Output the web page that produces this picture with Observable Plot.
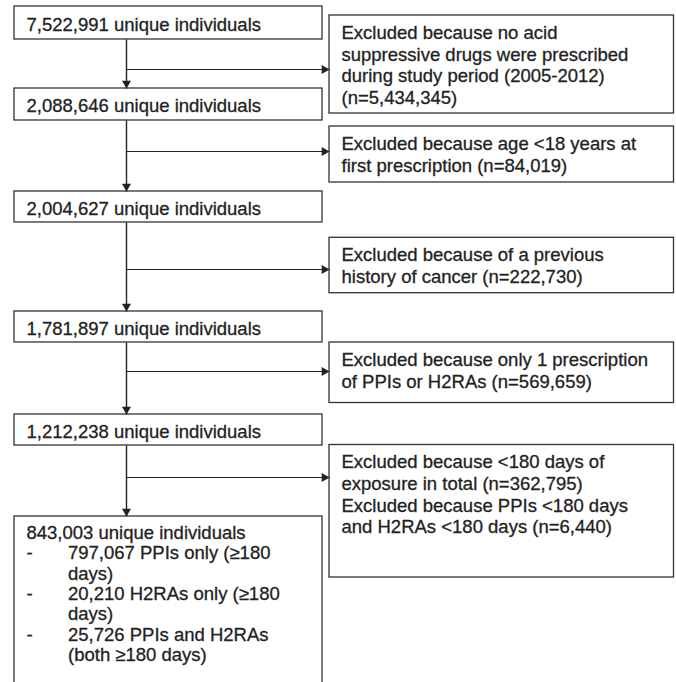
<!DOCTYPE html>
<html>
<head>
<meta charset="utf-8">
<script src="https://cdn.jsdelivr.net/npm/d3@7"></script>
<script src="https://cdn.jsdelivr.net/npm/@observablehq/plot@0.6"></script>
<style>
  html, body { margin: 0; padding: 0; background: #ffffff; }
  #chart svg { display: block; }
</style>
</head>
<body>
<div id="chart"></div>
<script>
// ---- Data (text content of the flowchart) ----
const mainCounts = ["7,522,991", "2,088,646", "2,004,627", "1,781,897", "1,212,238", "843,003"];
const mainSuffix = "unique individuals";
const exclusionText = [
  ["Excluded because no acid", "suppressive drugs were prescribed", "during study period (2005-2012)", "(n=5,434,345)"],
  ["Excluded because age <18 years at", "first prescription (n=84,019)"],
  ["Excluded because of a previous", "history of cancer (n=222,730)"],
  ["Excluded because only 1 prescription", "of PPIs or H2RAs (n=569,659)"],
  ["Excluded because <180 days of", "exposure in total (n=362,795)", "Excluded because PPIs <180 days", "and H2RAs <180 days (n=6,440)"]
];
const finalGroups = [
  ["797,067 PPIs only (≥180", "days)"],
  ["20,210 H2RAs only (≥180", "days)"],
  ["25,726 PPIs and H2RAs", "(both ≥180 days)"]
];
const bullet = "-";

// ---- Layout (pixel frame of the diagram) ----
const W = 676, H = 682;
const mainX1 = 14, mainX2 = 322, spineX = 126, textX = 26, itemX = 67.5;
const mainTop = [6, 88, 191, 311, 414, 516];
const mainBottom = [39, 120, 222, 342, 445, 700];
const exclX1 = 329, exclX2 = 673.5, exclTextX = 341;
const exclTop = [15, 126, 237.3, 342, 444.5];
const exclBottom = [113, 182, 292.7, 402.5, 577];
const arrowY = [69, 151, 269, 371, 477];
const exclLine = 21.7, exclFirst = 23.3;
const finalLine = 20.3, finalFirst = 22.5;
const font = 18.5;
const ink = "#222222", boxStroke = "#333333";

// ---- Build tables ----
const mainBoxes = mainCounts.map((c, i) => ({x1: mainX1, x2: mainX2, y1: mainTop[i], y2: mainBottom[i]}));
const exclBoxes = exclusionText.map((t, i) => ({x1: exclX1, x2: exclX2, y1: exclTop[i], y2: exclBottom[i]}));

const texts = [];
mainCounts.slice(0, -1).forEach((c, i) => {
  texts.push({x: textX, y: (mainTop[i] + mainBottom[i]) / 2 + 7.8, t: `${c} ${mainSuffix}`});
});
// final box
const last = mainCounts.length - 1;
let fy = mainTop[last] + finalFirst;
texts.push({x: textX, y: fy, t: `${mainCounts[last]} ${mainSuffix}`});
finalGroups.forEach(g => {
  g.forEach((line, j) => {
    fy += finalLine;
    if (j === 0) texts.push({x: textX, y: fy, t: bullet});
    texts.push({x: itemX, y: fy, t: line});
  });
});
exclusionText.forEach((lines, i) => {
  lines.forEach((line, j) => {
    texts.push({x: exclTextX, y: exclTop[i] + exclFirst + j * exclLine, t: line});
  });
});

// connectors
const vLinks = mainTop.slice(1).map((t, i) => ({x1: spineX, x2: spineX, y1: mainBottom[i], y2: t}));
const hLinks = arrowY.map(y => ({x1: spineX, x2: exclX1, y1: y, y2: y}));
const tipOffset = 5.2;
const downHeads = mainTop.slice(1).map(t => ({x: spineX, y: t - tipOffset}));
const rightHeads = arrowY.map(y => ({x: exclX1 - tipOffset, y}));

const chart = Plot.plot({
  width: W,
  height: H,
  margin: 0,
  x: {domain: [0, W], range: [0, W], axis: null},
  y: {domain: [0, H], range: [0, H], axis: null},
  style: {fontFamily: "'Liberation Sans', Arial, sans-serif", background: "#ffffff"},
  marks: [
    Plot.rect(mainBoxes, {x1: "x1", x2: "x2", y1: "y1", y2: "y2", fill: "white", stroke: boxStroke, strokeWidth: 1.3}),
    Plot.rect(exclBoxes, {x1: "x1", x2: "x2", y1: "y1", y2: "y2", fill: "white", stroke: boxStroke, strokeWidth: 1.3}),
    Plot.link(vLinks, {x1: "x1", y1: "y1", x2: "x2", y2: "y2", stroke: ink, strokeWidth: 1.4}),
    Plot.link(hLinks, {x1: "x1", y1: "y1", x2: "x2", y2: "y2", stroke: ink, strokeWidth: 1.1}),
    Plot.dot(downHeads, {x: "x", y: "y", symbol: "triangle", r: 3.35, rotate: 180, fill: ink, stroke: null}),
    Plot.dot(rightHeads, {x: "x", y: "y", symbol: "triangle", r: 3.35, rotate: 90, fill: ink, stroke: null}),
    Plot.text(texts, {x: "x", y: "y", text: "t", textAnchor: "start", lineAnchor: "bottom", fontSize: font, fill: ink, stroke: ink, strokeWidth: 0.3})
  ]
});
document.getElementById("chart").appendChild(chart);
</script>
</body>
</html>
